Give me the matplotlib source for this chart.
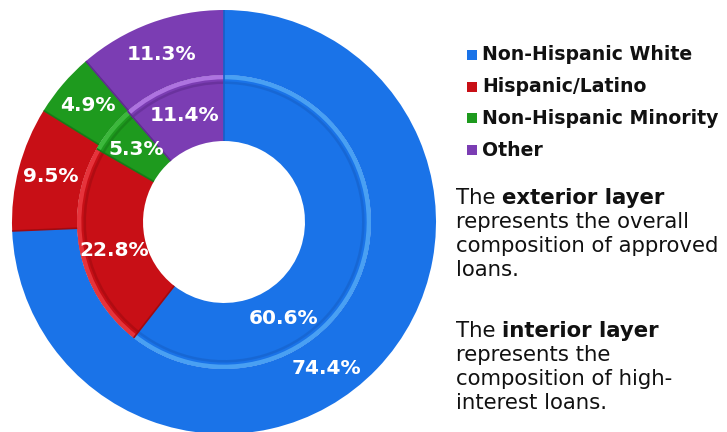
import matplotlib
matplotlib.use("Agg")
import matplotlib.pyplot as plt
import numpy as np
from matplotlib.patches import Wedge

categories = ["Non-Hispanic White", "Hispanic/Latino", "Non-Hispanic Minority", "Other"]
outer_values = [74.4, 9.5, 4.9, 11.3]   # approved loans
inner_values = [60.6, 22.8, 5.3, 11.4]  # high-interest loans
colors = ["#1A73E8", "#C80F16", "#1E9A1E", "#7B3DB3"]
edge_colors = ["#1560C8", "#A00A10", "#177A17", "#602C90"]
rim_colors = ["#4FA6F5", "#EA3840", "#40BC40", "#B47AE6"]

W, H = 727, 432
fig = plt.figure(figsize=(W / 100, H / 100), dpi=100)
cx, cy, R = 224, 222, 212
ax = fig.add_axes([(cx - R) / W, (H - cy - R) / H, 2 * R / W, 2 * R / H])

r_out, r_mid, r_hole = 1.0, 0.693, 0.382
w_out = r_out - r_mid
w_in = r_mid - r_hole

ax.pie(outer_values, radius=r_out, colors=colors, startangle=90, counterclock=False,
       wedgeprops=dict(width=w_out, edgecolor="none"), normalize=True)
ax.pie(inner_values, radius=r_mid, colors=colors, startangle=90, counterclock=False,
       wedgeprops=dict(width=w_in, edgecolor="none"), normalize=True)
ax.set_xlim(-1, 1)
ax.set_ylim(-1, 1)
ax.set_aspect("equal")
ax.axis("off")

def draw_rim(values, radius, width, cols, alpha):
    tot = sum(values)
    a = 90.0
    for v, rc in zip(values, cols):
        span = 360 * v / tot
        ax.add_patch(Wedge((0, 0), radius, a - span, a, width=width, facecolor=rc,
                           edgecolor="none", alpha=alpha))
        a -= span
# subtle bevel: darker line just inside, light highlight on the rim
draw_rim(inner_values, r_mid - 0.03, 0.012, edge_colors, 0.6)
draw_rim(inner_values, r_mid, 0.02, rim_colors, 0.9)

def separators(values, r0, r1):
    tot = sum(values)
    a = 90.0
    for v, ec in zip(values, edge_colors):
        th = np.deg2rad(a)
        ax.plot([r0 * np.cos(th), r1 * np.cos(th)], [r0 * np.sin(th), r1 * np.sin(th)],
                color=ec, lw=1.2, solid_capstyle="butt")
        a -= 360 * v / tot
separators(outer_values, r_mid, r_out)
separators(inner_values, r_hole, r_mid)

def mid_angles(values):
    tot = sum(values)
    a = 90.0
    out = []
    for v in values:
        span = 360 * v / tot
        out.append(a - span / 2)
        a -= span
    return out

out_ang = mid_angles(outer_values)
in_ang = mid_angles(inner_values)
out_ang[0] = -55.0
in_ang[0] = -58.5
in_ang[1] = 194.5

for vals, angs, rr in [(outer_values, out_ang, 0.845), (inner_values, in_ang, 0.535)]:
    for v, a in zip(vals, angs):
        th = np.deg2rad(a)
        ax.text(rr * np.cos(th), rr * np.sin(th), f"{v:.1f}%", color="white",
                fontsize=14.5, fontweight="bold", ha="center", va="center")

# legend
leg_y = [55, 87, 118, 150]
for name, c, y in zip(categories, colors, leg_y):
    fig.patches.append(plt.Rectangle((467 / W, 1 - (y + 5) / H), 10 / W, 10 / H,
                                     transform=fig.transFigure, facecolor=c, edgecolor="none"))
    fig.text(482 / W, 1 - y / H, name, fontsize=13.6, fontweight="bold", color="#111111",
             ha="left", va="center")

# description
FS = 15.3
fig.canvas.draw()
renderer = fig.canvas.get_renderer()
tmp = fig.text(0, 0, "The ", fontsize=FS)
tw = tmp.get_window_extent(renderer).width
tmp.remove()

def para(y0, bold_word, lines):
    fig.text(456 / W, 1 - y0 / H, "The ", fontsize=FS, color="#111111", ha="left", va="center")
    fig.text((456 + tw) / W, 1 - y0 / H, bold_word, fontsize=FS, fontweight="bold",
             color="#111111", ha="left", va="center")
    for i, ln in enumerate(lines):
        fig.text(456 / W, 1 - (y0 + 24 * (i + 1)) / H, ln, fontsize=FS, color="#111111",
                 ha="left", va="center")

para(198, "exterior layer", ["represents the overall", "composition of approved", "loans."])
para(331, "interior layer", ["represents the", "composition of high-", "interest loans."])

fig.savefig("out.png", dpi=100, facecolor="white")
